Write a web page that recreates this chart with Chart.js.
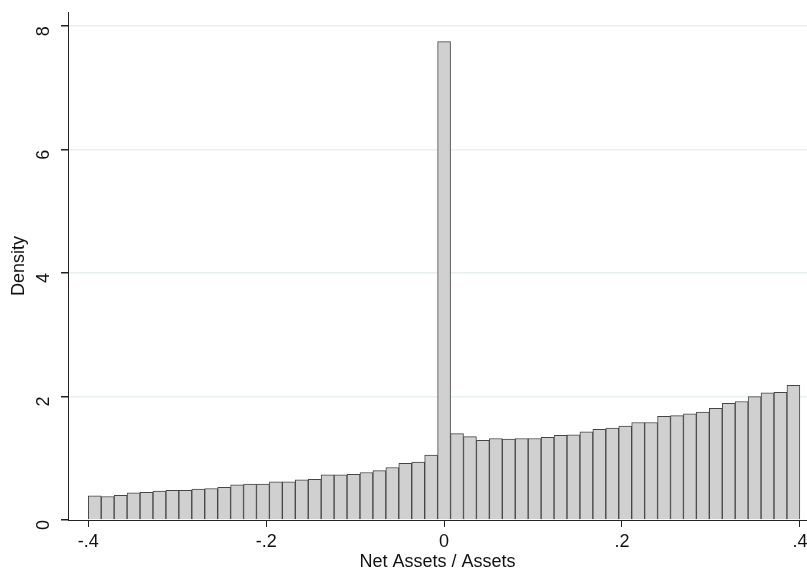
<!DOCTYPE html>
<html lang="en">
<head>
	<meta charset="utf-8">
	<title>Net Assets / Assets histogram</title>
	<script src="https://cdnjs.cloudflare.com/ajax/libs/Chart.js/4.4.1/chart.umd.min.js"></script>
	<style type="text/css">
		html, body { margin: 0; padding: 0; background: #ffffff; }
		#wrap { width: 807px; height: 573px; }
	</style>
</head>
<body>
<div id="wrap"><canvas id="hist-canvas" width="807" height="573"></canvas></div>
<script type="text/javascript">
	// histogram bins: 55 bins from -.4 to .4
	var binStart = -0.4;
	var binWidth = 0.8 / 55;
	// density per bin (left to right)
	var density = [
		0.39, 0.38, 0.40, 0.44, 0.45, 0.47, 0.48, 0.48, 0.50, 0.51,
		0.53, 0.57, 0.58, 0.58, 0.62, 0.62, 0.65, 0.66, 0.73, 0.73,
		0.74, 0.77, 0.80, 0.85, 0.92, 0.94, 1.05, 7.75, 1.40, 1.35,
		1.29, 1.32, 1.31, 1.32, 1.32, 1.34, 1.37, 1.38, 1.43, 1.47,
		1.49, 1.52, 1.58, 1.58, 1.68, 1.69, 1.72, 1.75, 1.81, 1.89,
		1.92, 2.00, 2.06, 2.07, 2.18
	];
	var xTickValues = [-0.4, -0.2, 0, 0.2, 0.4];
	var yTickValues = [0, 2, 4, 6, 8];

	var points = [];
	for (var i = 0; i < density.length; i++) {
		points.push({ x: binStart + binWidth * (i + 0.5), y: density[i] });
	}

	function fmtTick(v) {
		if (Math.abs(v) < 1e-9) return "0";
		var s = String(Math.round(v * 10) / 10);
		return s.replace("0.", ".");
	}

	var font = { family: "Arial, 'Liberation Sans', sans-serif", size: 18 };

	var ctx = document.getElementById("hist-canvas").getContext("2d");
	new Chart(ctx, {
		type: "bar",
		data: {
			datasets: [{
				data: points,
				backgroundColor: "#d0d0d0",
				borderColor: "#454545",
				borderWidth: 1,
				barPercentage: 1,
				categoryPercentage: 1
			}]
		},
		options: {
			responsive: false,
			animation: false,
			layout: { padding: { top: 12, right: 0, left: 8, bottom: 0 } },
			plugins: {
				legend: { display: false },
				tooltip: { enabled: false }
			},
			scales: {
				x: {
					type: "linear",
					min: -0.4228,
					max: 0.408,
					offset: false,
					afterBuildTicks: function(scale) {
						scale.ticks = xTickValues.map(function(v) { return { value: v }; });
					},
					afterFit: function(scale) {
						scale.height = 53;
						scale.paddingLeft = 0;
						scale.paddingRight = 0;
					},
					ticks: {
						color: "#111",
						font: font,
						padding: 4,
						maxRotation: 0,
						callback: function(v) { return fmtTick(v); }
					},
					grid: {
						offset: false,
						drawOnChartArea: false,
						drawTicks: true,
						tickLength: 7,
						tickColor: "#222"
					},
					border: { display: true, color: "#222", width: 1 },
					title: {
						display: true,
						text: "Net Assets / Assets",
						color: "#111",
						font: font,
						padding: { top: 0, bottom: 0 }
					}
				},
				y: {
					min: 0,
					max: 8.23,
					afterBuildTicks: function(scale) {
						scale.ticks = yTickValues.map(function(v) { return { value: v }; });
					},
					afterFit: function(scale) {
						scale.width = 60;
						scale.paddingTop = 0;
						scale.paddingBottom = 0;
					},
					ticks: {
						color: "#111",
						font: font,
						minRotation: 90,
						maxRotation: 90,
						padding: 17,
						callback: function(v) { return String(v); }
					},
					grid: {
						color: function(c) {
							return c.tick && c.tick.value === 0 ? "rgba(0,0,0,0)" : "#e8f0f2";
						},
						lineWidth: 1.5,
						drawTicks: true,
						tickLength: 7,
						tickColor: "#222"
					},
					border: { display: true, color: "#222", width: 1 },
					title: {
						display: true,
						text: "Density",
						color: "#111",
						font: font,
						padding: { top: 0, bottom: 0 }
					}
				}
			}
		}
	});
</script>
</body>
</html>
